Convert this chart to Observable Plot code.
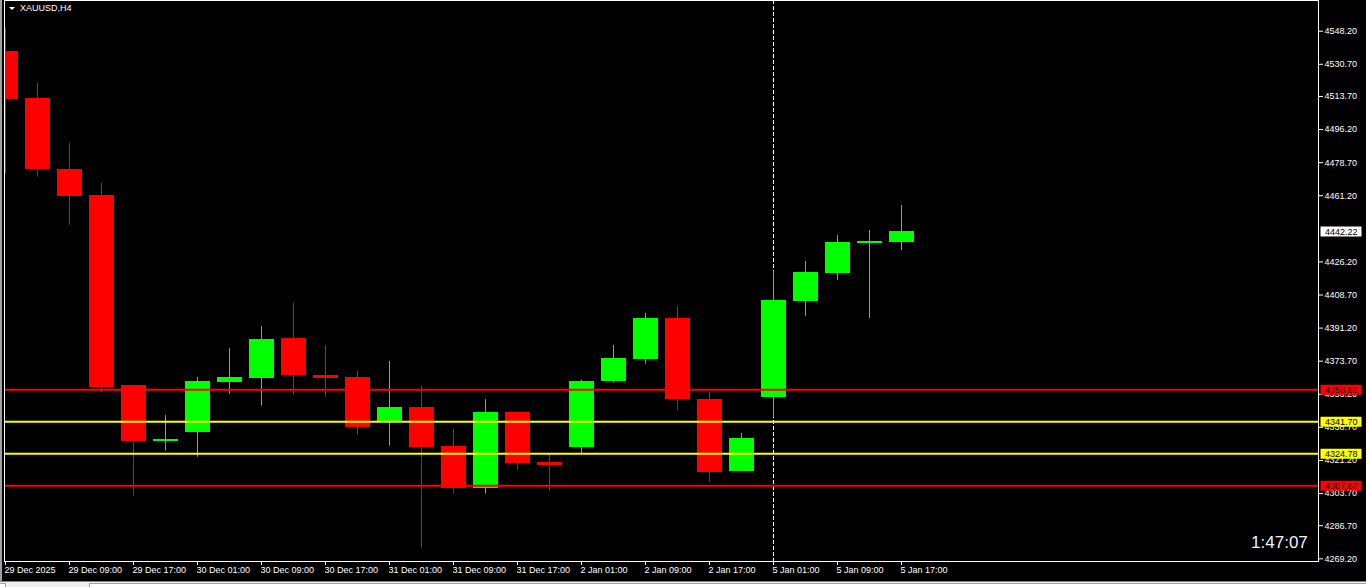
<!DOCTYPE html>
<html><head><meta charset="utf-8">
<script src="https://cdn.jsdelivr.net/npm/d3@7"></script>
<script src="https://cdn.jsdelivr.net/npm/@observablehq/plot@0.6"></script>
<style>
html,body{margin:0;padding:0;background:#000;width:1366px;height:587px;overflow:hidden}
#wrap{position:relative;width:1366px;height:587px}
#chart svg{display:block}
#edge{position:absolute;left:0;top:0;width:2px;height:581px;background:#a0a0a0}
#strip{position:absolute;left:0;top:581px;width:1366px;height:6px;background:#f0f0f0;border-top:1px solid #808080;box-sizing:border-box}
#tab{position:absolute;left:89px;top:1px;right:0;height:6px;background:#fff;border-left:1px solid #a0a0a0;border-top:1px solid #a0a0a0}
#tab0{position:absolute;left:0;top:1px;width:5px;height:6px;background:#fff;border-right:1px solid #a0a0a0;border-top:1px solid #a0a0a0}
</style></head>
<body><div id="wrap"><div id="chart"></div><div id="edge"></div><div id="strip"><div id="tab0"></div><div id="tab"></div></div></div>
<script>
const symbolName = "XAUUSD,H4";
const countdown = "1:47:07";
// OHLC of the H4 candles, oldest first (29 Dec 2025 01:00 ... 5 Jan 17:00)
const opens  = [4537.6,4512.6,4475.1,4461.3,4360.8,4331.4,4336.1,4362.6,4364.7,4385.7,4366.1,4365.1,4341.4,4349.2,4328.6,4306.5,4346.6,4320.1,4328.2,4363.1,4374.6,4396.3,4353.4,4315.4,4354.5,4405.3,4420.1,4436.0,4436.5];
const highs  = [4549.5,4520.5,4488.8,4467.7,4361.0,4345.0,4365.1,4380.4,4392.0,4404.2,4382.0,4368.2,4373.5,4360.3,4337.6,4353.4,4346.8,4324.4,4363.5,4382.0,4398.9,4402.6,4357.1,4335.5,4421.1,4426.4,4440.2,4442.8,4456.0];
const lows   = [4472.8,4471.0,4445.6,4356.8,4302.3,4326.1,4322.9,4356.2,4349.9,4355.7,4354.6,4334.4,4328.7,4274.8,4303.4,4303.4,4316.0,4304.6,4324.5,4362.1,4372.1,4347.6,4309.5,4315.2,4343.9,4397.3,4416.4,4396.3,4432.2];
const closes = [4512.1,4475.2,4460.9,4359.9,4331.4,4332.4,4363.0,4365.1,4385.2,4366.3,4364.7,4338.8,4349.2,4328.2,4306.5,4346.6,4319.8,4318.7,4363.0,4375.1,4396.3,4353.4,4314.8,4332.9,4405.8,4420.6,4436.5,4437.0,4442.22];
// time axis labels and the candle index they sit on
const tickIdx = [0,2,4,6,8,10,12,14,16,18,20,22,24,26,28];
const tickLabels = ["29 Dec 2025","29 Dec 09:00","29 Dec 17:00","30 Dec 01:00","30 Dec 09:00","30 Dec 17:00","31 Dec 01:00","31 Dec 09:00","31 Dec 17:00","2 Jan 01:00","2 Jan 09:00","2 Jan 17:00","5 Jan 01:00","5 Jan 09:00","5 Jan 17:00"];
const separatorLabels = ["5 Jan 01:00"];
// price axis labels (the one hidden under the current-price box is left out)
const yTicks = [4548.2,4530.7,4513.7,4496.2,4478.7,4461.2,4426.2,4408.7,4391.2,4373.7,4356.2,4338.7,4321.2,4303.7,4286.7,4269.2];
// horizontal levels
const levelPrices = [4358.61,4341.70,4324.78,4307.87];
const levelKinds  = ["outer","inner","inner","outer"];

const candles = opens.map((o, i) => ({i, open: o, high: highs[i], low: lows[i], close: closes[i]}));
const colorOf = d => d.close >= d.open ? "#00ff00" : "#ff0000";
const levelColor = {outer: "#ff0000", inner: "#ffff00"};
const levels = levelPrices.map((p, k) => ({price: p, kind: levelKinds[k]}));
const sepIdx = separatorLabels.map(s => tickIdx[tickLabels.indexOf(s)]);
const last = candles[candles.length - 1];

const boxSymbol = {draw(ctx){ ctx.rect(-20.5, -5, 41, 10); }};
const triSymbol = {draw(ctx){ ctx.moveTo(-3,-1.5); ctx.lineTo(3,-1.5); ctx.lineTo(0,1.5); ctx.closePath(); }};

const chart = Plot.plot({
  width: 1366, height: 581,
  marginTop: 0, marginRight: 48, marginBottom: 20, marginLeft: 4,
  style: {background: "#000", color: "#fff", fontFamily: "'Liberation Sans', Arial, sans-serif", fontSize: "9px"},
  x: {type: "linear", domain: [0, 41], range: [5, 1317], label: null},
  y: {type: "linear", domain: [4267.24, 4563.91], range: [562, 1], label: null},
  marks: [
    Plot.ruleX(sepIdx, {x: d => d, stroke: "#fff", strokeDasharray: "4,2"}),
    Plot.ruleX(candles, {x: "i", y1: "low", y2: "high", stroke: colorOf, clip: true}),
    Plot.rect(candles, {x1: d => d.i - 12/32, x2: d => d.i + 13/32, y1: "open", y2: "close", fill: colorOf, clip: true, shapeRendering: "crispEdges"}),
    Plot.ruleY(levels, {y: "price", stroke: d => levelColor[d.kind], strokeWidth: 2}),
    Plot.frame({stroke: "#fff"}),
    Plot.axisY(yTicks, {anchor: "right", tickSize: 4, tickPadding: 2, tickFormat: d => d.toFixed(2), label: null}),
    Plot.axisX(tickIdx, {anchor: "bottom", tickSize: 4, tickFormat: () => "", label: null}),
    Plot.text(tickIdx, {x: d => d, text: (d, k) => tickLabels[k], frameAnchor: "bottom", textAnchor: "start", lineAnchor: "top", dx: -1, dy: 5, fill: "#fff"}),
    Plot.dot(levels, {y: "price", frameAnchor: "right", dx: 22.5, symbol: boxSymbol, fill: d => levelColor[d.kind], stroke: "none"}),
    Plot.text(levels, {y: "price", text: d => d.price.toFixed(2), frameAnchor: "right", dx: 6.5, textAnchor: "start", fill: "#000"}),
    Plot.dot([last], {y: "close", frameAnchor: "right", dx: 22.5, symbol: boxSymbol, fill: "#fff", stroke: "none"}),
    Plot.text([last], {y: "close", text: d => d.close.toFixed(2), frameAnchor: "right", dx: 6.5, textAnchor: "start", fill: "#000"}),
    Plot.dot([symbolName], {frameAnchor: "top-left", dx: 7.5, dy: 8, symbol: triSymbol, fill: "#fff", stroke: "none"}),
    Plot.text([symbolName], {frameAnchor: "top-left", text: d => d, dx: 15.5, dy: 7.3, textAnchor: "start", lineAnchor: "middle", fill: "#fff"}),
    Plot.text([countdown], {frameAnchor: "bottom-right", text: d => d, dx: -10.7, dy: -18.6, textAnchor: "end", lineAnchor: "middle", fontSize: 17, fill: "#eef2fa"})
  ]
});
document.getElementById("chart").appendChild(chart);
</script>
</body></html>
